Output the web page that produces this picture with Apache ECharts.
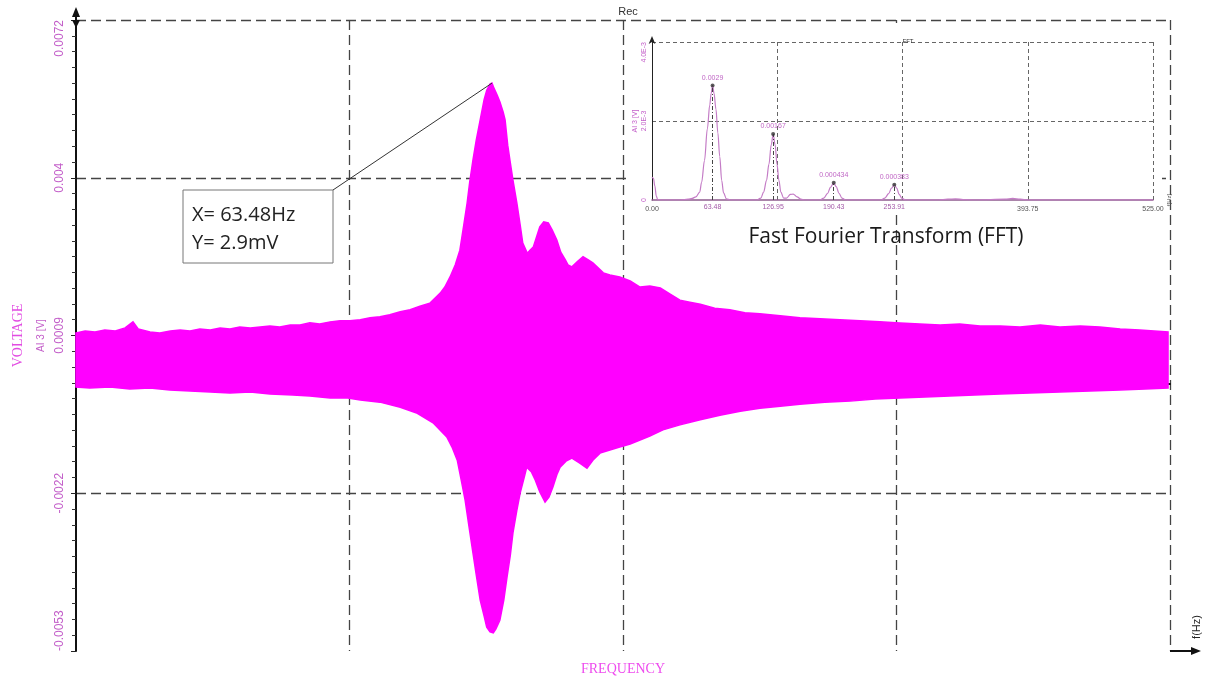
<!DOCTYPE html>
<html>
<head>
<meta charset="utf-8">
<script src="https://cdn.jsdelivr.net/npm/echarts@6/dist/echarts.min.js"></script>
<style>
  html, body { margin: 0; padding: 0; background: #ffffff; }
  #chart { width: 1210px; height: 684px; }
</style>
</head>
<body>
<div id="chart"></div>
<script>
// Swept response: upper and lower envelope of the recorded signal [frequency Hz, voltage mV]
const sweepUpper = [
  [0,1.00],[1.4,1.04],[2.9,1.02],[4.4,1.06],[6.0,1.04],[7.5,1.10],[8.7,1.22],[9.5,1.08],[11.3,1.02],[12.8,1.00],
  [14.4,1.04],[15.9,1.06],[17.4,1.04],[18.9,1.08],[20.5,1.06],[22.0,1.10],[23.5,1.08],[25.0,1.12],[26.6,1.10],[28.1,1.12],
  [29.6,1.14],[31.1,1.12],[32.7,1.16],[34.2,1.16],[35.7,1.20],[37.2,1.18],[38.8,1.22],[40.3,1.24],[41.8,1.24],[43.4,1.26],
  [44.9,1.30],[46.4,1.32],[47.9,1.36],[49.5,1.42],[51.0,1.46],[52.5,1.53],[54.0,1.59],[55.6,1.79],[56.3,1.91],[57.1,2.11],
  [57.9,2.35],[58.6,2.64],[59.2,3.14],[59.7,3.57],[60.1,3.99],[60.6,4.43],[61.1,4.82],[61.7,5.22],[62.3,5.62],[62.7,5.81],
  [63.2,5.93],[63.5,5.95],[63.8,5.85],[64.3,5.71],[64.7,5.58],[65.2,5.38],[65.5,5.22],[65.9,4.72],[66.3,4.37],[66.7,4.03],
  [67.3,3.57],[67.8,3.14],[68.2,2.78],[68.9,2.58],[69.3,2.64],[69.8,2.70],[70.4,2.94],[70.8,3.10],[71.4,3.20],[72.1,3.18],
  [72.7,3.04],[73.4,2.84],[74.0,2.60],[74.7,2.45],[75.1,2.35],[75.7,2.31],[76.5,2.41],[77.4,2.51],[78.2,2.45],[78.9,2.39],
  [79.7,2.29],[80.5,2.19],[81.5,2.15],[83.0,2.11],[84.6,2.03],[86.1,1.91],[87.6,1.93],[89.2,1.89],[90.7,1.77],[92.2,1.65],
  [93.7,1.61],[95.3,1.57],[97.5,1.49],[99.8,1.46],[102.1,1.40],[104.4,1.38],[107.5,1.34],[110.5,1.30],[113.6,1.28],[116.6,1.26],
  [119.7,1.24],[122.7,1.22],[125.8,1.20],[128.8,1.18],[131.9,1.16],[134.9,1.18],[138.0,1.14],[141.1,1.14],[144.1,1.12],[147.2,1.16],
  [150.2,1.12],[153.3,1.14],[156.3,1.12],[159.4,1.08],[162.4,1.06],[166.7,1.02]
];
const sweepLower = [
  [0,-0.07],[2.1,-0.09],[5.2,-0.07],[8.2,-0.11],[11.3,-0.09],[14.3,-0.13],[17.4,-0.15],[20.5,-0.17],[23.5,-0.19],[26.6,-0.17],
  [29.6,-0.21],[33.1,-0.23],[35.7,-0.25],[38.8,-0.29],[41.5,-0.29],[43.4,-0.33],[46.4,-0.37],[49.5,-0.47],[52.1,-0.59],[54.5,-0.78],
  [56.6,-1.06],[57.4,-1.26],[58.2,-1.52],[58.8,-1.91],[59.4,-2.31],[60.0,-2.84],[60.6,-3.36],[61.1,-3.79],[61.7,-4.29],[62.3,-4.61],
  [62.7,-4.83],[63.2,-4.92],[63.7,-4.94],[64.1,-4.86],[64.7,-4.69],[65.3,-4.29],[65.8,-3.83],[66.3,-3.40],[66.7,-2.96],[67.3,-2.51],
  [67.8,-2.17],[68.4,-1.87],[68.8,-1.66],[69.5,-1.75],[70.1,-1.91],[70.8,-2.15],[71.6,-2.35],[72.2,-2.25],[72.8,-2.05],[73.4,-1.81],
  [73.9,-1.66],[74.8,-1.54],[75.7,-1.48],[76.9,-1.58],[78.0,-1.68],[78.9,-1.52],[80.0,-1.38],[81.5,-1.32],[83.0,-1.26],[84.6,-1.20],
  [86.1,-1.12],[87.6,-1.04],[89.6,-0.92],[92.2,-0.82],[95.3,-0.72],[98.3,-0.63],[101.4,-0.55],[104.4,-0.49],[107.5,-0.45],[110.5,-0.41],
  [114.3,-0.37],[118.2,-0.35],[122.0,-0.31],[125.8,-0.29],[129.6,-0.27],[133.4,-0.25],[137.2,-0.23],[141.1,-0.21],[145.6,-0.19],[150.2,-0.17],
  [154.8,-0.15],[159.4,-0.13],[163.2,-0.11],[166.7,-0.09]
];
const voltTickLabels = ['-0.0053', '-0.0022', '0.0009', '0.004', '0.0072'];

// Spectrum of the recording [frequency Hz, amplitude V]
const fftSpectrum = [
  [0,0.00058],[1.5,0.00055],[3,0.00035],[4.5,0.0001],[6,0.00001],[10,0],[20,0],[30,0],[38,0.00002],[42,0.00004],
  [46,0.00008],[50,0.0002],[52,0.00045],[55,0.001],[58,0.0018],[60.5,0.0024],[62,0.0027],[63.48,0.0029],[65,0.0027],[67,0.0023],
  [69,0.0017],[71,0.0011],[73,0.0005],[75,0.00018],[78,0.00003],[82,0],[110,0],[114,0.00005],[117,0.0002],[120,0.0005],
  [122.5,0.0009],[125,0.0014],[126.95,0.00167],[129,0.0014],[131,0.0009],[133,0.0005],[135,0.0002],[138,0.00005],[141,0.00005],[145,0.00014],
  [148,0.00015],[152,0.00008],[156,0.00002],[160,0],[176,0],[180,0.00005],[184,0.00017],[187,0.00032],[190.43,0.000434],[193,0.00034],
  [196,0.00017],[199,0.00005],[203,0],[240,0],[244,0.00005],[248,0.00016],[251,0.0003],[253.91,0.000383],[256.5,0.0003],[259,0.00014],
  [262,0.00004],[266,0],[300,0],[310,0.00002],[318,0.00003],[326,0.00001],[340,0],[370,0.00002],[378,0.00004],[386,0.00002],
  [394,0],[525,0]
];
const fftPeakFreq = [63.48, 126.95, 190.43, 253.91];
const fftPeakAmp = [0.0029, 0.00167, 0.000434, 0.000383];
const fftFreqTickLabels = ['0.00', '', '', '393.75', '525.00'];
const fftAmpTickLabels = ['0', '2.0E-3', '4.0E-3'];

const MAGENTA = '#ff00ff';
const LABEL_PINK = '#c35fc9';
const SANS = 'Liberation Sans, Arial, sans-serif';
const SERIF = 'Liberation Serif, Times New Roman, serif';
const CAPTION = 'Open Sans, sans-serif';

const mainDash = { color: '#444', width: 1.3, type: [10, 5] };
const insetDash = { color: '#666', width: 1, type: [4, 3] };

const chart = echarts.init(document.getElementById('chart'), null, { renderer: 'canvas' });

const option = {
  animation: false,
  backgroundColor: '#ffffff',
  title: [
    { text: 'Rec', left: 623, top: 1, textAlign: 'center',
      textStyle: { fontSize: 11, fontWeight: 'normal', color: '#333', fontFamily: SANS } },
    { text: 'FFT', left: 903, top: 33, textAlign: 'center',
      textStyle: { fontSize: 6, fontWeight: 'normal', color: '#333', fontFamily: SANS } },
    { text: 'Fast Fourier Transform (FFT)', left: 881, top: 222, textAlign: 'center',
      textStyle: { fontSize: 21, fontWeight: 'normal', color: '#1a1a1a', fontFamily: CAPTION } }
  ],
  grid: [
    { left: 76, right: 40, top: 20, bottom: 33 },
    { left: 652, right: 57, top: 42, bottom: 484 }
  ],
  xAxis: [
    {
      type: 'value', gridIndex: 0, min: 0, max: 167, interval: 41.75,
      name: 'FREQUENCY', nameLocation: 'middle', nameGap: 11,
      nameTextStyle: { fontFamily: SERIF, fontSize: 14, color: '#ee4cee' },
      axisLine: { show: true, lineStyle: { color: '#111', width: 2 } },
      axisTick: { show: false },
      axisLabel: { show: false },
      splitLine: { show: true, showMinLine: false, lineStyle: mainDash }
    },
    {
      type: 'value', gridIndex: 1, min: 0, max: 525, interval: 131.25, z: 3,
      name: 'f[Hz]', nameLocation: 'end', nameRotate: 90, nameGap: 3,
      nameTextStyle: { fontSize: 6, color: '#555', fontFamily: SANS },
      axisLine: { show: true, lineStyle: { color: '#8e5c8e', width: 1.5 } },
      axisTick: { show: false },
      axisLabel: { fontSize: 7, color: '#555', margin: 6, fontFamily: SANS,
        formatter: (v, i) => fftFreqTickLabels[i] || '' },
      splitLine: { show: true, showMinLine: false, lineStyle: insetDash }
    }
  ],
  yAxis: [
    {
      type: 'value', gridIndex: 0, min: -5.3, max: 7.2, interval: 3.125,
      name: '{v|VOLTAGE}\n{u|AI 3 [V]}', nameLocation: 'middle', nameRotate: 90, nameGap: 22,
      nameTextStyle: {
        rich: {
          v: { fontFamily: SERIF, fontSize: 14, color: '#e24ce2', lineHeight: 24 },
          u: { fontFamily: SANS, fontSize: 10, color: LABEL_PINK, lineHeight: 22 }
        }
      },
      axisLine: { show: true, lineStyle: { color: '#111', width: 2 } },
      axisTick: { show: true, length: 5, lineStyle: { color: '#222' } },
      minorTick: { show: true, splitNumber: 10, length: 4, lineStyle: { color: '#333' } },
      axisLabel: { rotate: 90, margin: 10, fontSize: 12, color: LABEL_PINK, fontFamily: SANS,
        formatter: (v, i) => voltTickLabels[i], alignMinLabel: 'left', alignMaxLabel: 'right' },
      splitLine: { show: true, showMinLine: false, lineStyle: mainDash }
    },
    {
      type: 'value', gridIndex: 1, min: 0, max: 0.004, interval: 0.002, z: 3,
      name: 'AI 3 [V]', nameLocation: 'middle', nameRotate: 90, nameGap: 13,
      nameTextStyle: { fontSize: 7, color: LABEL_PINK, fontFamily: SANS },
      axisLine: { show: true, symbol: ['none', 'arrow'], symbolSize: [5, 8], symbolOffset: [0, 6],
        lineStyle: { color: '#222', width: 1 } },
      axisTick: { show: false },
      axisLabel: { rotate: 90, margin: 4, fontSize: 7, color: LABEL_PINK, fontFamily: SANS,
        formatter: (v, i) => fftAmpTickLabels[i], alignMaxLabel: 'right' },
      splitLine: { show: true, showMinLine: false, lineStyle: insetDash }
    }
  ],
  series: [
    {
      // filled band between the lower and upper envelope
      type: 'custom', name: 'AI 3', xAxisIndex: 0, yAxisIndex: 0, z: 2, silent: true,
      data: [[0, 0]],
      renderItem: (params, api) => {
        const pts = sweepUpper.map(p => api.coord(p))
          .concat(sweepLower.slice().reverse().map(p => api.coord(p)));
        return { type: 'polygon', shape: { points: pts },
          style: { fill: MAGENTA, stroke: MAGENTA, lineWidth: 1.5, lineJoin: 'miter' } };
      }
    },
    {
      type: 'line', name: 'FFT', xAxisIndex: 1, yAxisIndex: 1, z: 4,
      data: fftSpectrum, showSymbol: false, smooth: 0.35, smoothMonotone: 'x',
      lineStyle: { color: '#c47cc6', width: 1.2 },
      markLine: {
        silent: true, symbol: ['none', 'none'],
        lineStyle: { color: '#444', width: 1, type: [4, 2, 1, 2] },
        label: { show: true, position: 'start', distance: 4, fontSize: 7, color: '#a45aa8', fontFamily: SANS },
        data: fftPeakFreq.map((f, i) => [
          { coord: [f, 0], label: { formatter: f.toFixed(2) } },
          { coord: [f, fftPeakAmp[i]] }
        ])
      }
    },
    {
      type: 'scatter', name: 'FFT peaks', xAxisIndex: 1, yAxisIndex: 1, z: 5,
      data: fftPeakFreq.map((f, i) => [f, fftPeakAmp[i]]),
      symbol: 'circle', symbolSize: 4, itemStyle: { color: '#333' },
      label: { show: true, position: 'top', distance: 2, fontSize: 7, color: '#b040b6', fontFamily: SANS,
        formatter: p => String(p.value[1]) }
    }
  ]
};

chart.setOption(option);

// axis arrows, inset backdrop and the peak callout
const axisEnd = chart.convertToPixel({ gridIndex: 0 }, [167, -5.3]);
const axisTop = chart.convertToPixel({ gridIndex: 0 }, [0, 7.2]);
const sweepPeak = sweepUpper.reduce((a, b) => (b[1] > a[1] ? b : a));
const peakPx = chart.convertToPixel({ gridIndex: 0 }, sweepPeak);
const tipX = axisEnd[0] + 31;
const tipY = axisTop[1] - 13;
const calloutFreq = 'X= ' + fftPeakFreq[0].toFixed(2) + 'Hz';
const calloutAmp = 'Y= ' + (+(fftPeakAmp[0] * 1000).toFixed(1)) + 'mV';

chart.setOption({
  graphic: [
    { type: 'rect', z: 1, silent: true, shape: { x: 626, y: 23, width: 536, height: 190 }, style: { fill: '#ffffff' } },
    // x axis continuation with arrow
    { type: 'line', z: 10, silent: true,
      shape: { x1: axisEnd[0], y1: axisEnd[1], x2: tipX - 6, y2: axisEnd[1] },
      style: { stroke: '#111', lineWidth: 2 } },
    { type: 'polygon', z: 10, silent: true,
      shape: { points: [[tipX, axisEnd[1]], [tipX - 10, axisEnd[1] - 4], [tipX - 10, axisEnd[1] + 4]] },
      style: { fill: '#111' } },
    { type: 'text', z: 10, silent: true, x: tipX - 4, y: axisEnd[1] - 24, rotation: Math.PI / 2,
      style: { text: 'f(Hz)', fontSize: 11, fontFamily: SANS, fill: '#222', align: 'center', verticalAlign: 'middle' } },
    // y axis continuation with arrow
    { type: 'line', z: 10, silent: true,
      shape: { x1: axisTop[0], y1: axisTop[1], x2: axisTop[0], y2: tipY + 6 },
      style: { stroke: '#111', lineWidth: 2 } },
    { type: 'polygon', z: 10, silent: true,
      shape: { points: [[axisTop[0], tipY], [axisTop[0] - 4, tipY + 10], [axisTop[0] + 4, tipY + 10]] },
      style: { fill: '#111' } },
    { type: 'polygon', z: 10, silent: true,
      shape: { points: [[axisTop[0] - 4, axisTop[1]], [axisTop[0] + 4, axisTop[1]], [axisTop[0], axisTop[1] + 8]] },
      style: { fill: '#111' } },
    // callout for the resonance peak
    { type: 'line', z: 11, silent: true,
      shape: { x1: 333, y1: 190, x2: peakPx[0], y2: peakPx[1] },
      style: { stroke: '#333', lineWidth: 1 } },
    { type: 'rect', z: 11, silent: true, shape: { x: 183, y: 190, width: 150, height: 73 },
      style: { fill: '#ffffff', stroke: '#777', lineWidth: 1 } },
    { type: 'text', z: 12, silent: true, x: 192, y: 215,
      style: { text: calloutFreq, fontSize: 20, fontFamily: CAPTION, fill: '#222', verticalAlign: 'middle' } },
    { type: 'text', z: 12, silent: true, x: 192, y: 243,
      style: { text: calloutAmp, fontSize: 20, fontFamily: CAPTION, fill: '#222', verticalAlign: 'middle' } }
  ]
});
</script>
</body>
</html>
